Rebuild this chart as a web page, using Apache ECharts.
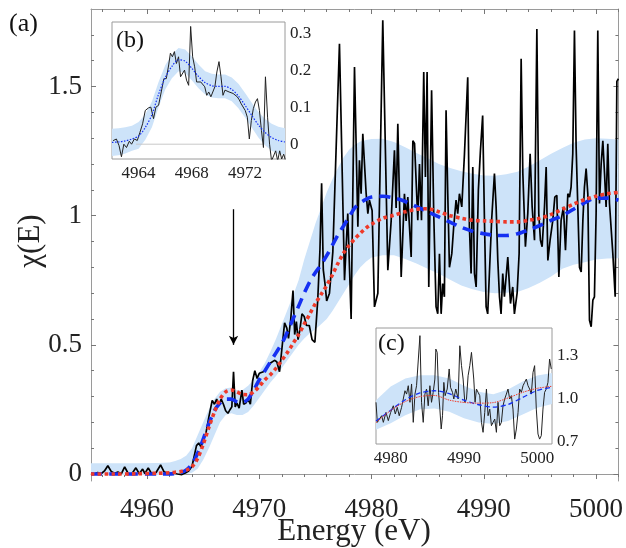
<!DOCTYPE html>
<html>
<head>
<meta charset="utf-8">
<script src="https://cdn.jsdelivr.net/npm/echarts@6.0.0/dist/echarts.min.js"></script>
<style>html,body{margin:0;padding:0;background:#fff;}#chart{width:626px;height:548px;}</style>
</head>
<body>
<div id="chart"></div>
<script>
// ---------- main panel (a) : measured data ----------
var mainE = [4955.0,4955.3,4955.6,4955.9,4956.2,4956.5,4956.8,4957.1,4957.4,4957.7,4958.0,4958.3,4958.6,4959.0,4959.3,4959.6,4959.8,4960.1,4960.4,4960.8,4961.2,4961.5,4961.9,4962.3,4962.7,4963.1,4963.4,4963.7,4964.0,4964.2,4964.4,4964.6,4964.8,4965.0,4965.25,4965.5,4965.8,4966.0,4966.2,4966.4,4966.6,4966.8,4967.0,4967.2,4967.4,4967.55,4967.7,4967.85,4968.0,4968.2,4968.45,4968.6,4968.8,4969.0,4969.2,4969.4,4969.6,4969.8,4970.0,4970.3,4970.5,4970.75,4971.0,4971.35,4971.55,4971.8,4972.0,4972.25,4972.45,4972.6,4972.8,4973.0,4973.15,4973.3,4973.45,4973.6,4973.8,4974.0,4974.2,4974.45,4974.7,4974.95,4975.2,4975.4,4975.55,4975.7,4975.85,4976.0,4976.25,4976.55,4977.14,4977.59,4977.88,4978.18,4978.48,4978.78,4978.92,4979.07,4979.22,4979.52,4979.67,4979.81,4980.05,4980.26,4980.56,4981.0,4981.45,4981.75,4982.04,4982.19,4982.34,4982.64,4982.93,4983.08,4983.23,4983.53,4983.68,4983.83,4984.12,4984.27,4984.45,4984.65,4984.8,4984.95,4985.1,4985.35,4985.54,4985.75,4985.9,4986.05,4986.2,4986.34,4986.49,4986.64,4986.79,4986.94,4987.15,4987.32,4987.53,4987.68,4987.83,4988.04,4988.28,4988.57,4988.72,4988.87,4989.02,4989.17,4989.32,4989.52,4989.7,4989.9,4990.06,4990.21,4990.35,4990.5,4990.71,4990.95,4991.1,4991.25,4991.4,4991.54,4991.69,4991.84,4991.99,4992.14,4992.38,4992.58,4992.73,4992.97,4993.15,4993.33,4993.48,4993.71,4993.92,4994.13,4994.31,4994.52,4994.73,4994.9,4995.05,4995.2,4995.41,4995.56,4995.71,4995.91,4996.15,4996.33,4996.51,4996.69,4996.89,4997.1,4997.28,4997.49,4997.64,4997.78,4997.93,4998.08,4998.23,4998.38,4998.53,4998.68,4998.83,4998.97,4999.12,4999.27,4999.42,4999.57,4999.72,4999.86,5000.01,5000.16,5000.31,5000.46,5000.61,5000.76,5000.9,5001.05,5001.2,5001.5,5001.71,5001.86,5002.0];
var mainChi = [0.003,0.0,0.006,0.001,0.012,0.032,0.010,0.003,0.008,0.001,0.028,0.003,-0.002,0.024,0.001,0.019,0.002,0.024,0.001,0.006,0.035,0.009,0.002,0.004,0.0,-0.002,0.004,0.012,0.03,0.07,0.11,0.12,0.105,0.13,0.16,0.22,0.285,0.27,0.29,0.265,0.29,0.27,0.245,0.235,0.25,0.26,0.396,0.26,0.275,0.255,0.325,0.27,0.275,0.29,0.27,0.36,0.40,0.37,0.39,0.395,0.40,0.415,0.43,0.44,0.435,0.396,0.48,0.585,0.565,0.525,0.6,0.71,0.54,0.59,0.52,0.555,0.62,0.61,0.575,0.575,0.52,0.51,0.67,0.866,1.125,0.79,0.737,0.67,0.70,0.86,1.665,0.75,1.008,0.60,1.575,0.957,1.214,1.085,1.317,1.085,1.008,1.06,1.02,0.647,0.70,1.756,0.789,0.982,1.253,1.03,1.356,0.763,1.085,0.98,1.072,0.84,1.29,1.28,0.982,1.2,0.982,1.556,1.15,1.556,0.724,1.485,1.008,0.647,0.62,0.853,0.62,0.737,0.686,1.408,1.085,0.8,0.853,0.957,1.06,1.008,1.085,1.034,1.24,1.536,0.957,0.776,1.188,0.776,0.724,1.1,1.25,1.388,0.982,0.647,0.62,0.776,0.99,1.163,1.034,0.827,0.686,0.62,0.776,0.686,0.686,0.84,0.66,0.724,0.62,0.70,0.853,1.607,1.163,0.88,1.008,1.24,1.034,0.905,1.723,1.008,0.905,0.88,1.034,1.188,0.827,0.905,0.982,1.072,1.079,0.763,0.982,1.034,0.866,1.085,1.072,1.111,1.24,1.717,1.265,1.034,0.8,0.782,0.982,1.111,1.182,1.085,0.595,0.57,0.673,0.686,1.008,1.717,1.047,1.2,1.29,1.163,1.034,1.278,1.047,0.853,0.686,1.52,1.53];

// ---------- main panel (a) : fits and band ----------
var fitE = [4955,4957,4959,4961,4962,4962.5,4963,4963.5,4964,4964.5,4965,4965.5,4966,4966.5,4967,4967.5,4968,4968.5,4969,4969.5,4970,4970.5,4971,4971.5,4972,4972.5,4973,4973.5,4974,4974.5,4975,4975.5,4976,4976.5,4977,4977.5,4978,4978.5,4979,4979.5,4980,4981,4982,4983,4984,4985,4986,4987,4988,4989,4990,4991,4992,4993,4994,4995,4996,4997,4998,4999,5000,5001,5002];
var blueFit = [0,0,0,0,0,0.002,0.006,0.016,0.038,0.08,0.135,0.195,0.245,0.275,0.29,0.29,0.28,0.278,0.29,0.325,0.365,0.4,0.435,0.47,0.505,0.55,0.6,0.65,0.7,0.745,0.78,0.81,0.845,0.885,0.925,0.96,0.995,1.03,1.05,1.063,1.072,1.075,1.068,1.055,1.035,1.015,0.995,0.975,0.955,0.94,0.93,0.924,0.923,0.93,0.945,0.962,0.982,1.0,1.025,1.05,1.068,1.068,1.06];
var redFit = [0,0,0.001,0.003,0.005,0.007,0.01,0.015,0.028,0.06,0.115,0.18,0.24,0.29,0.318,0.325,0.318,0.308,0.307,0.318,0.34,0.365,0.385,0.41,0.44,0.47,0.505,0.54,0.58,0.62,0.66,0.695,0.73,0.77,0.815,0.855,0.885,0.91,0.932,0.952,0.967,0.99,1.002,1.015,1.025,1.027,1.015,1.0,0.99,0.982,0.98,0.978,0.976,0.976,0.982,0.99,1.005,1.025,1.045,1.062,1.075,1.085,1.09];
var bandLow = [-0.004,-0.004,-0.004,-0.004,-0.004,-0.004,-0.003,0.0,0.005,0.02,0.055,0.1,0.15,0.2,0.228,0.235,0.228,0.228,0.24,0.265,0.295,0.325,0.355,0.38,0.41,0.44,0.47,0.5,0.525,0.545,0.56,0.58,0.6,0.63,0.665,0.7,0.735,0.77,0.8,0.822,0.838,0.847,0.847,0.832,0.815,0.795,0.775,0.752,0.73,0.715,0.705,0.7,0.702,0.705,0.72,0.74,0.765,0.795,0.81,0.82,0.83,0.834,0.835];
var bandHigh = [0.042,0.042,0.042,0.043,0.045,0.05,0.058,0.072,0.1,0.15,0.2,0.25,0.29,0.318,0.332,0.335,0.325,0.325,0.342,0.365,0.395,0.43,0.475,0.525,0.58,0.635,0.69,0.75,0.83,0.9,0.97,1.03,1.09,1.14,1.185,1.225,1.255,1.275,1.287,1.293,1.297,1.298,1.285,1.265,1.243,1.222,1.2,1.185,1.172,1.162,1.156,1.155,1.16,1.17,1.19,1.215,1.24,1.262,1.282,1.295,1.3,1.298,1.295];

// arrow marking the pre-edge feature
var arrowE = 4967.7, arrowFrom = 1.025, arrowTo = 0.5;

// ---------- inset (b) ----------
var bE = [4962.08,4962.33,4962.53,4962.71,4962.89,4963.09,4963.3,4963.47,4963.68,4963.9,4964.1,4964.3,4964.5,4964.74,4964.92,4965.12,4965.3,4965.5,4965.7,4965.9,4966.08,4966.26,4966.39,4966.54,4966.69,4966.84,4967.0,4967.15,4967.3,4967.45,4967.6,4967.76,4967.91,4968.06,4968.21,4968.36,4968.5,4968.67,4968.82,4968.97,4969.12,4969.27,4969.43,4969.58,4969.73,4969.88,4970.04,4970.19,4970.34,4970.49,4970.64,4970.8,4970.95,4971.1,4971.25,4971.41,4971.56,4971.71,4971.86,4972.01,4972.17,4972.32,4972.47,4972.62,4972.78,4972.93,4973.08,4973.23,4973.38,4973.53,4973.69,4973.84,4973.99,4974.14,4974.3,4974.45,4974.6,4974.75,4974.9,4975.05];
var bChi = [0.0095,0.014,-0.004,-0.034,0.0,-0.009,0.008,0.0,0.014,0.01,0.032,0.055,0.091,0.098,0.10,0.069,0.10,0.105,0.141,0.177,0.177,0.214,0.246,0.236,0.25,0.218,0.236,0.182,0.177,0.2,0.173,0.159,0.318,0.236,0.209,0.168,0.173,0.168,0.171,0.155,0.132,0.141,0.128,0.123,0.155,0.195,0.223,0.182,0.132,0.146,0.144,0.141,0.146,0.137,0.132,0.128,0.12,0.109,0.105,0.091,0.073,0.014,0.064,0.096,0.114,0.123,0.091,0.037,-0.009,0.182,0.073,0.0,-0.045,-0.04,-0.018,-0.045,-0.018,-0.04,-0.027,-0.045];
var bFitE = [4962,4962.5,4963,4963.5,4964,4964.5,4965,4965.5,4966,4966.5,4967,4967.5,4968,4968.5,4969,4969.5,4970,4970.5,4971,4971.5,4972,4972.5,4973,4973.5,4974,4974.5,4975];
var bFit = [0.005,0.006,0.009,0.014,0.022,0.045,0.08,0.135,0.18,0.21,0.228,0.224,0.205,0.183,0.166,0.158,0.156,0.156,0.148,0.13,0.105,0.078,0.052,0.032,0.018,0.01,0.006];
var bLow = [-0.032,-0.03,-0.025,-0.018,-0.012,0.012,0.046,0.1,0.148,0.178,0.197,0.192,0.173,0.151,0.134,0.126,0.124,0.124,0.116,0.097,0.072,0.045,0.018,-0.003,-0.018,-0.026,-0.03];
var bHigh = [0.042,0.043,0.046,0.05,0.06,0.08,0.115,0.168,0.213,0.242,0.26,0.256,0.237,0.215,0.197,0.19,0.188,0.188,0.18,0.163,0.138,0.112,0.087,0.068,0.055,0.047,0.043];
var bZeroE = [4963.8, 4973.4];

// ---------- inset (c) ----------
var cE = [4978.0,4978.18,4978.45,4978.77,4979.0,4979.36,4979.68,4980.0,4980.36,4980.63,4980.9,4981.17,4981.49,4981.72,4981.95,4982.17,4982.4,4982.63,4982.85,4983.08,4983.31,4983.53,4983.76,4983.99,4984.21,4984.44,4984.67,4984.89,4985.12,4985.35,4985.57,4985.8,4986.03,4986.16,4986.34,4986.53,4986.71,4986.89,4987.07,4987.25,4987.43,4987.71,4987.98,4988.16,4988.43,4988.61,4988.88,4989.2,4989.43,4989.66,4989.88,4990.11,4990.34,4990.56,4990.79,4991.02,4991.15,4991.33,4991.51,4991.7,4991.92,4992.15,4992.38,4992.6,4992.83,4993.06,4993.28,4993.51,4993.74,4993.96,4994.19,4994.42,4994.64,4994.87,4995.1,4995.32,4995.55,4995.78,4996.0,4996.23,4996.46,4996.68,4996.91,4997.14,4997.37,4997.59,4997.82,4998.05,4998.27,4998.5,4998.73,4998.95,4999.18,4999.41,4999.63,4999.86,5000.09,5000.31,5000.54,5000.77,5000.99,5001.22,5001.45,5001.67,5001.9];
var cChi = [0.975,0.836,0.848,0.882,0.836,0.905,0.848,0.905,0.951,0.894,0.94,0.882,0.94,0.998,1.055,1.032,1.09,0.975,1.102,0.836,1.032,1.09,1.09,1.437,0.975,0.836,1.032,1.067,0.951,1.09,0.975,1.044,1.136,1.344,1.321,1.044,0.928,0.79,0.882,1.113,1.021,1.067,1.206,1.079,1.044,0.998,1.067,0.998,1.367,1.229,1.136,0.975,0.998,1.159,1.229,1.321,1.333,1.136,0.975,1.067,1.044,1.021,0.836,0.767,0.905,1.067,0.882,0.928,0.813,0.836,0.859,0.767,0.975,0.813,0.836,0.951,0.998,1.032,1.067,0.998,1.021,0.928,0.72,0.79,0.905,1.067,1.044,1.09,1.113,1.136,1.09,1.067,1.032,1.182,1.229,0.928,0.755,0.72,0.744,0.928,1.044,1.067,1.113,1.275,1.206];
var cFitE = [4978,4980,4982,4984,4986,4988,4990,4992,4994,4996,4998,5000,5002];
var cBlue = [0.845,0.92,0.993,1.04,1.055,1.035,0.99,0.958,0.942,0.96,1.009,1.057,1.08];
var cRed = [0.834,0.918,0.98,1.015,1.022,0.99,0.974,0.969,0.973,1.005,1.044,1.072,1.086];
var cLow = [0.785,0.83,0.886,0.926,0.932,0.91,0.865,0.835,0.825,0.845,0.89,0.938,0.963];
var cHigh = [0.99,1.085,1.14,1.162,1.163,1.14,1.09,1.048,1.03,1.063,1.12,1.16,1.178];

// ---------- ticks ----------
var xMajor = [4960,4970,4980,4990,5000];
var xMinor = [4956,4958,4962,4964,4966,4968,4972,4974,4976,4978,4982,4984,4986,4988,4992,4994,4996,4998,5002];
var yMajor = [0,0.5,1,1.5];
var yMinor = [0.1,0.2,0.3,0.4,0.6,0.7,0.8,0.9,1.1,1.2,1.3,1.4,1.6,1.7];
var bXTicks = [4964,4968,4972];
var bYTicks = [0,0.1,0.2,0.3];
var cXTicks = [4980,4990,5000];
var cYTicks = [0.7,1.0,1.3];

// ---------- helpers ----------
function pairs(xs, ys){ return xs.map(function(x,i){ return [x, ys[i]]; }); }
function plain(v){ return String(v); }
var FONT = '"Liberation Serif","DejaVu Serif",serif';
var FRAME = '#9a9a9a';
var BAND = '#cde3f9';
var BLUE = '#1530f2';
var RED = '#ee3a2a';

function bandSeries(xs, lo, hi, xi, yi, z){
  return {
    type:'custom', xAxisIndex:xi, yAxisIndex:yi, z:z, clip:true, silent:true,
    data:[[xs[0], lo[0]]],
    renderItem:function(params, api){
      var pts = [];
      for (var i=0;i<xs.length;i++) pts.push(api.coord([xs[i], hi[i]]));
      for (var j=xs.length-1;j>=0;j--) pts.push(api.coord([xs[j], lo[j]]));
      return {type:'polygon', shape:{points:pts}, style:{fill:BAND, stroke:null}};
    }
  };
}
function tickAxis(o){
  return Object.assign({type:'value', splitLine:{show:false}, axisLabel:{show:false},
    axisLine:{show:false}, axisTick:{show:false}}, o);
}

var option = {
  animation:false,
  backgroundColor:'#fff',
  grid:[
    {left:91, top:9, width:528, height:472, show:false},
    {left:112, top:22, width:173, height:137, show:true, backgroundColor:'#fff', borderColor:FRAME, borderWidth:1, z:100},
    {left:376, top:328, width:176, height:116, show:true, backgroundColor:'#fff', borderColor:FRAME, borderWidth:1, z:100}
  ],
  xAxis:[
    tickAxis({gridIndex:0, position:'bottom', min:4955, max:5002,
      axisLine:{show:true, onZero:true, lineStyle:{color:FRAME, width:1}},
      axisTick:{show:true, inside:false, length:5, customValues:xMajor, lineStyle:{color:'#777'}},
      axisLabel:{show:true, customValues:xMajor, formatter:plain, margin:15, fontSize:27, fontFamily:FONT, color:'#222'}}),
    tickAxis({gridIndex:0, position:'bottom', min:4955, max:5002,
      axisLine:{show:false, onZero:true},
      axisTick:{show:true, inside:false, length:3, customValues:xMinor, lineStyle:{color:'#777'}}}),
    tickAxis({gridIndex:0, position:'top', min:4955, max:5002,
      axisLine:{show:true, onZero:false, lineStyle:{color:FRAME, width:1}},
      axisTick:{show:true, inside:true, length:5, customValues:xMajor, lineStyle:{color:'#777'}}}),
    tickAxis({gridIndex:0, position:'top', min:4955, max:5002,
      axisLine:{show:false, onZero:false},
      axisTick:{show:true, inside:true, length:3, customValues:xMinor, lineStyle:{color:'#777'}}}),
    tickAxis({gridIndex:1, position:'bottom', min:4962, max:4975, z:120,
      axisLine:{show:false, onZero:false},
      axisLabel:{show:true, customValues:bXTicks, formatter:plain, margin:6, fontSize:17, fontFamily:FONT, color:'#222'}}),
    tickAxis({gridIndex:2, position:'bottom', min:4978, max:5002, z:120,
      axisLine:{show:false, onZero:false},
      axisLabel:{show:true, customValues:cXTicks, formatter:plain, margin:6, fontSize:17, fontFamily:FONT, color:'#222'}})
  ],
  yAxis:[
    tickAxis({gridIndex:0, position:'left', min:-0.027, max:1.8,
      axisLine:{show:true, onZero:false, lineStyle:{color:FRAME, width:1}},
      axisTick:{show:true, inside:true, length:5, customValues:yMajor, lineStyle:{color:'#777'}},
      axisLabel:{show:true, customValues:yMajor, formatter:plain, margin:9, fontSize:27, fontFamily:FONT, color:'#222'}}),
    tickAxis({gridIndex:0, position:'left', min:-0.027, max:1.8,
      axisLine:{show:false, onZero:false},
      axisTick:{show:true, inside:true, length:3, customValues:yMinor, lineStyle:{color:'#777'}}}),
    tickAxis({gridIndex:0, position:'right', min:-0.027, max:1.8,
      axisLine:{show:true, onZero:false, lineStyle:{color:FRAME, width:1}},
      axisTick:{show:true, inside:true, length:5, customValues:yMajor, lineStyle:{color:'#777'}}}),
    tickAxis({gridIndex:0, position:'right', min:-0.027, max:1.8,
      axisLine:{show:false, onZero:false},
      axisTick:{show:true, inside:true, length:3, customValues:yMinor, lineStyle:{color:'#777'}}}),
    tickAxis({gridIndex:1, position:'right', min:-0.04, max:0.33, z:120,
      axisLine:{show:false, onZero:false},
      axisLabel:{show:true, customValues:bYTicks, formatter:plain, margin:5, fontSize:17, fontFamily:FONT, color:'#222'}}),
    tickAxis({gridIndex:2, position:'right', min:0.686, max:1.49, z:120,
      axisLine:{show:false, onZero:false},
      axisLabel:{show:true, customValues:cYTicks, margin:5, fontSize:17, fontFamily:FONT, color:'#222',
        formatter:function(v){ return v.toFixed(1); }}})
  ],
  series:[
    bandSeries(fitE, bandLow, bandHigh, 0, 0, 1),
    {type:'line', xAxisIndex:0, yAxisIndex:0, z:3, data:pairs(mainE, mainChi), symbol:'none', silent:true,
      lineStyle:{color:'#000', width:1.7}, sampling:null,
      markLine:{silent:true, symbol:['none','arrow'], symbolSize:[7,9], label:{show:false},
        lineStyle:{color:'#000', width:1.3, type:'solid'},
        data:[[{coord:[arrowE, arrowFrom]},{coord:[arrowE, arrowTo]}]]}},
    {type:'line', xAxisIndex:0, yAxisIndex:0, z:4, data:pairs(fitE, blueFit), symbol:'none', smooth:0.3, silent:true,
      lineStyle:{color:BLUE, width:3.6, type:[11,7], cap:'butt'}},
    {type:'line', xAxisIndex:0, yAxisIndex:0, z:5, data:pairs(fitE, redFit), symbol:'none', smooth:0.3, silent:true,
      lineStyle:{color:RED, width:3.6, type:[3.6,3.2], cap:'butt'}},

    bandSeries(bFitE, bLow, bHigh, 4, 4, 110),
    {type:'line', xAxisIndex:4, yAxisIndex:4, z:111, data:pairs(bZeroE, [0,0]), symbol:'none', silent:true,
      lineStyle:{color:'#c8c8c8', width:1}},
    {type:'line', xAxisIndex:4, yAxisIndex:4, z:112, data:pairs(bE, bChi), symbol:'none', silent:true,
      lineStyle:{color:'#222', width:1}},
    {type:'line', xAxisIndex:4, yAxisIndex:4, z:113, data:pairs(bFitE, bFit), symbol:'none', smooth:0.3, silent:true,
      lineStyle:{color:BLUE, width:1.2, type:[1.5,1.5]}},

    bandSeries(cFitE, cLow, cHigh, 5, 5, 110),
    {type:'line', xAxisIndex:5, yAxisIndex:5, z:112, data:pairs(cE, cChi), symbol:'none', silent:true,
      lineStyle:{color:'#222', width:1}},
    {type:'line', xAxisIndex:5, yAxisIndex:5, z:113, data:pairs(cFitE, cBlue), symbol:'none', smooth:0.3, silent:true,
      lineStyle:{color:BLUE, width:1.3, type:[5,3]}},
    {type:'line', xAxisIndex:5, yAxisIndex:5, z:114, data:pairs(cFitE, cRed), symbol:'none', smooth:0.3, silent:true,
      lineStyle:{color:RED, width:1, type:[1.5,1]}}
  ],
  graphic:[
    {type:'text', x:9, y:24, z:130, style:{text:'(a)', font:'26px '+FONT, fill:'#111', textAlign:'left', textVerticalAlign:'middle'}},
    {type:'text', x:116, y:41, z:130, style:{text:'(b)', font:'24px '+FONT, fill:'#111', textAlign:'left', textVerticalAlign:'middle'}},
    {type:'text', x:378, y:344, z:130, style:{text:'(c)', font:'24px '+FONT, fill:'#111', textAlign:'left', textVerticalAlign:'middle'}},
    {type:'text', x:31, y:241, rotation:Math.PI/2, z:130, style:{text:'χ(E)', font:'31px '+FONT, fill:'#222', textAlign:'center', textVerticalAlign:'middle'}},
    {type:'text', x:354, y:532, z:130, style:{text:'Energy (eV)', font:'31px '+FONT, fill:'#222', textAlign:'center', textVerticalAlign:'middle'}}
  ]
};
var chart = echarts.init(document.getElementById('chart'), null, {renderer:'canvas'});
chart.setOption(option);
</script>
</body>
</html>
